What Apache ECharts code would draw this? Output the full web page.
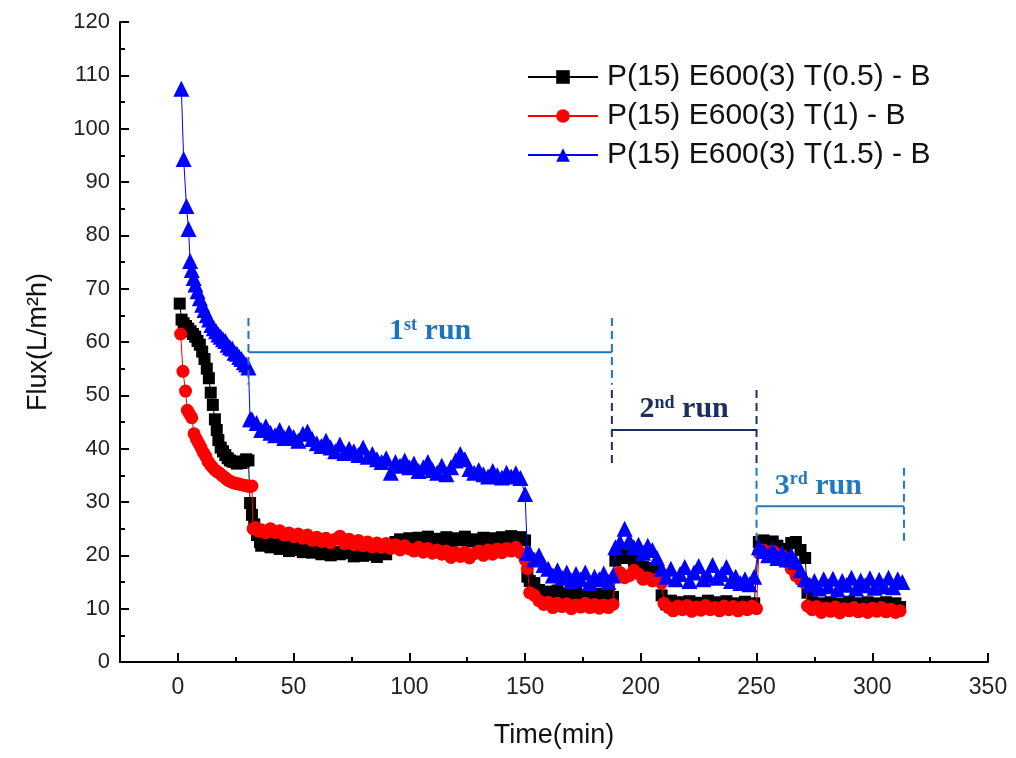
<!DOCTYPE html>
<html>
<head>
<meta charset="utf-8">
<script src="https://cdn.jsdelivr.net/npm/echarts@6/dist/echarts.min.js"></script>
<style>
html,body{margin:0;padding:0;background:#fff;}
#chart{width:1016px;height:758px;}
</style>
</head>
<body>
<div id="chart"></div>
<script>
// ---- data (time in min, flux in L/m2h) ----
const seriesNames = ['P(15) E600(3) T(0.5) - B', 'P(15) E600(3) T(1) - B', 'P(15) E600(3) T(1.5) - B'];
const xTicks = [0, 50, 100, 150, 200, 250, 300, 350];
const yTicks = [0, 10, 20, 30, 40, 50, 60, 70, 80, 90, 100, 110, 120];

const blackPts = [
[0.8,67.2],[1.6,64.2],[2.5,63.5],[3.5,63],[4.5,62.5],[5.5,62],[6.5,61.5],[7.5,61],[8.5,60.2],[9.5,59.5],
[10.5,58.2],[11.5,56.8],[12.5,55],[13.4,53.2],[14.2,50.5],[15.1,48.2],[16,45.5],[16.8,43.5],[17.5,41.6],[18.5,40.2],
[19.5,39.5],[20.5,38.8],[21.5,38.2],[22.5,37.8],[23.5,37.6],[24.5,37.5],[25.5,37.2],[26.5,37.5],[27.5,37.3],[28.5,37.6],
[29.5,38],[30.5,37.8],[31.2,29.8],[32,27.6],[33,25.8],[34.2,23.8],[35.5,22.5],
[36,21.8],[38,22.5],[40,21.5],[42,22.2],[44,21.2],[46,22],[48,20.8],[50,21.5],[52,21],[54,20.6],[56,21.3],[58,20.5],
[60,21],[62,20.2],[64,20.8],[66,20],[68,20.6],[70,20.2],[72,21.5],[74,20.4],[76,19.8],[78,20.5],[80,19.9],[82,20.6],
[84,20.1],[86,19.7],[88,20.8],[90,20.2],[92,21.8],[94,22.5],[96,23],[98,22.2],[100,23.2],[102,22.5],[104,23.3],[106,22.7],
[108,23.5],[110,22.8],[112,23.1],[114,22.5],[116,23.4],[118,22.6],[120,23.2],[122,22.8],[124,23.5],[126,22.6],[128,23],
[130,22.4],[132,23.3],[134,22.7],[136,23.2],[138,22.5],[140,23.4],[142,22.8],[144,23.6],[146,22.6],[148,23.4],[150,22.8],
[151,16],[152,15.2],[154,14.8],[156,13.5],[158,12.8],[160,13.2],[162,12.5],[164,13.4],[166,12.2],[168,12.9],[170,12.4],
[172,13.2],[174,12.6],[176,12.1],[178,13],[180,12.3],[182,12.8],[184,12],[186,12.6],[188,12.2],
[189,19],[191,20.5],[193,19.5],[195,20.2],[197,19],[199,19.6],[201,17.8],[203,17.2],[205,17.6],[207,17],
[209,12.5],[211,10.8],[213,11.5],[215,10.5],[217,11.2],[219,10.6],[221,11.4],[223,10.4],[225,11.1],[227,10.7],[229,11.5],
[231,10.3],[233,11.2],[235,10.8],[237,11.4],[239,10.5],[241,11],[243,10.6],[245,11.3],[247,10.5],[249,11],
[251,22.5],[253,22.8],[255,22.2],[257,22.6],[259,21.8],[261,21.2],[263,20.6],[265,22.3],[267,22.5],[269,21],[271,19.5],
[272,13],[274,11.2],[276,10.4],[278,11],[280,10.5],[282,11.2],[284,10.3],[286,10.9],[288,10.6],[290,11.3],[292,10.4],
[294,11],[296,10.5],[298,11.2],[300,10.4],[302,11],[304,10.6],[306,11.2],[308,10.4],[310,11],[312,10.3]
];

const redPts = [
[1.2,61.5],[2.2,54.5],[3.3,50.8],[4.1,47.2],[5,46.5],[6,45.8],[7,42.8],[8,41.8],[9,41],[10,40.2],[11,39.3],[12,38.6],
[13,37.6],[14,37],[15,36.5],[16,36],[17,35.7],[18,35.4],[19,35],[20,34.7],[21,34.3],[22,34],[23,33.8],[24,33.6],
[25,33.5],[26,33.4],[27,33.3],[28,33.2],[29,33.1],[30,33],[31,32.9],[32,33],[32.5,25],[33.5,25.2],[35,24.5],
[36,24.8],[38,24.2],[40,25],[42,24.3],[44,24.6],[46,23.8],[48,24.2],[50,23.5],[52,24],[54,23.2],[56,23.8],[58,22.8],
[60,23.4],[62,22.6],[64,23.2],[66,22.4],[68,23],[70,23.6],[72,22.2],[74,23],[76,22],[78,22.8],[80,21.8],[82,22.5],
[84,21.6],[86,22.3],[88,21.5],[90,22.2],[92,21.3],[94,22],[96,21],[98,21.8],[100,21.2],[102,20.8],[104,21.5],[106,20.6],
[108,21.3],[110,20.4],[112,21],[114,20.2],[116,20.8],[118,19.6],[120,20.5],[122,19.8],[124,20.6],[126,19.5],[128,20.3],
[130,20.8],[132,20],[134,21],[136,20.2],[138,21.2],[140,20.5],[142,21.3],[144,20.8],[146,21.5],[148,20.5],[150,19.2],
[151,17.5],[152,13],[154,12.5],[156,11.5],[158,10.8],[160,11.2],[162,10.2],[164,11],[166,10.4],[168,10.9],[170,10],
[172,10.7],[174,10.3],[176,11],[178,10.2],[180,10.8],[182,10.1],[184,10.7],[186,10.2],[188,10.8],
[189,16],[191,16.8],[193,15.8],[195,16.2],[197,17.2],[199,16.5],[201,15.5],[203,15.8],[205,15.2],[207,15.6],[209,14.8],
[210,11],[212,10.2],[214,9.6],[216,10.5],[218,9.8],[220,10.6],[222,9.5],[224,10.3],[226,9.7],[228,10.6],[230,9.8],
[232,10.2],[234,9.6],[236,10.5],[238,9.8],[240,10.4],[242,9.6],[244,10.3],[246,9.8],[248,10.5],[250,10],
[251,20.5],[253,21],[255,20.4],[257,20.8],[259,20.2],[261,20],[263,18.8],[265,17.5],[267,16.2],[269,15.4],[271,14.8],
[272,10.5],[274,9.8],[276,10.4],[278,9.3],[280,10.1],[282,9.5],[284,10.3],[286,9.2],[288,10],[290,9.6],[292,10.2],
[294,9.4],[296,9.9],[298,9.3],[300,10.1],[302,9.5],[304,10.2],[306,9.4],[308,9.9],[310,9.3],[312,9.6]
];

const bluePts = [
[1.5,107.5],[2.5,94.3],[3.7,85.5],[4.6,81.2],[5.3,75.2],[6,73.5],[6.8,72],[7.6,70.8],[8.5,69.5],[9.5,68.2],[10.5,67],
[11.5,66],[12.5,65],[13.5,64.2],[14.5,63.2],[15.5,62.6],[16.5,62],[17.5,61.4],[18.5,61],[19.5,60.5],[20.5,60.2],
[21.5,59.5],[22.5,59],[23.5,58.8],[24.5,58],[25.5,57.8],[26.5,57.2],[27.5,56.8],[28.5,56.2],[29.5,55.8],[30.5,55.2],
[31.2,45.5],[32,45.5],[34,44.8],[36,43.5],[38,44.2],[40,43],[42,42.5],[44,43.5],[46,42],[48,43],[50,42.2],[52,41.5],
[54,42.8],[56,43.2],[58,41.8],[60,41],[62,40.5],[64,41.5],[66,40.2],[68,39.5],[70,40.8],[72,39.2],[74,40],[76,39.5],
[78,38.8],[80,40.2],[82,38.5],[84,39],[86,38],[88,37.5],[90,38.2],[92,35.5],[94,37.5],[96,36.8],[98,37.8],[100,36.5],
[102,37.2],[104,35.8],[106,36.5],[108,37.5],[110,36],[112,35.5],[114,36.8],[116,35.2],[118,36.5],[120,37.8],[122,39],
[124,38],[126,36.2],[128,35.5],[130,36],[132,35.2],[134,34.8],[136,35.8],[138,35],[140,34.6],[142,35.5],[144,34.8],
[146,35.4],[148,34.5],[150,31.5],
[151,20.5],[152,20.5],[154,19.2],[156,20],[158,18.2],[160,17.5],[162,16.2],[164,17.2],[166,15.8],[168,16.8],[170,15.2],
[172,16.5],[174,15.5],[176,16.8],[178,14.8],[180,16],[182,15.5],[184,16.6],[186,15],[188,16.2],
[189,21.5],[191,22.5],[193,25],[195,22.8],[197,21.5],[199,22],[201,20.5],[203,21.8],[205,21],[207,19.5],[209,17.5],
[211,16],[213,17.5],[215,15.5],[217,16.5],[219,17.8],[221,15.2],[223,16.8],[225,18],[227,15.5],[229,16.2],[231,18.2],
[233,15.8],[235,16.5],[237,17.8],[239,15.2],[241,16],[243,14.8],[245,15.5],[247,14.6],[249,16],
[251,21.5],[253,20.8],[255,20],[257,21],[259,19.5],[261,20.5],[263,19.2],[265,20],[267,18.8],[269,17.2],[271,15.5],
[273,14.5],[275,15.2],[277,13.8],[279,15.5],[281,14.2],[283,15.6],[285,13.6],[287,15.2],[289,14.5],[291,15.8],
[293,13.8],[295,15.3],[297,14.4],[299,15.7],[301,13.9],[303,15.4],[305,14.2],[307,15.8],[309,14],[311,15.5],[313,15]
];

// run brackets: [start, end, level, top, bottom] in data units
const runLabels = ['1{sup|st} run', '2{sup|nd} run', '3{sup|rd} run'];
const runSpans = [
  [30.5, 187.5, 58.1, 64.5, 52],
  [187.5, 250, 43.5, 51, 37.3],
  [250, 313.7, 29.2, 36.4, 22.5]
];
const runColors = ['#1f72c0', '#1b2f60', '#1f7ac4'];

const chart = echarts.init(document.getElementById('chart'), null, {renderer: 'canvas'});
const axisFont = 'Liberation Sans, Arial, sans-serif';

function renderRun(params, api) {
  const i = params.dataIndex;
  const s = runSpans[i];
  const p0 = api.coord([s[0], s[2]]);
  const p1 = api.coord([s[1], s[2]]);
  const t0 = api.coord([s[0], s[3]]);
  const b0 = api.coord([s[0], s[4]]);
  const t1 = api.coord([s[1], s[3]]);
  const b1 = api.coord([s[1], s[4]]);
  const c = runColors[i];
  const dash = {stroke: c, lineWidth: 2, lineDash: [8, 5]};
  return {
    type: 'group',
    children: [
      {type: 'line', shape: {x1: p0[0], y1: p0[1], x2: p1[0], y2: p1[1]}, style: {stroke: c, lineWidth: 2}},
      {type: 'line', shape: {x1: t0[0], y1: t0[1], x2: b0[0], y2: b0[1]}, style: dash},
      {type: 'line', shape: {x1: t1[0], y1: t1[1], x2: b1[0], y2: b1[1]}, style: dash},
      {type: 'text', x: (p0[0] + p1[0]) / 2 - (i === 2 ? 12 : 0), y: p0[1] - 5,
       style: {text: runLabels[i], align: 'center', verticalAlign: 'bottom',
         fill: c, font: 'bold 30px "Liberation Serif", "Times New Roman", serif',
         rich: {sup: {fontSize: 18, fontWeight: 'bold', fontFamily: 'Liberation Serif', fill: c, verticalAlign: 'top', padding: [0, 0, 13, 0]}}}}
    ]
  };
}

const option = {
  animation: false,
  backgroundColor: '#ffffff',
  grid: {left: 120, right: 28, top: 22, bottom: 96, containLabel: false},
  legend: {
    data: seriesNames,
    orient: 'vertical',
    left: 522, top: 56,
    itemWidth: 70, itemHeight: 17, itemGap: 7,
    textStyle: {fontFamily: axisFont, fontSize: 30, color: '#111', padding: [0, 0, 0, 4], lineHeight: 32}
  },
  xAxis: [{
    type: 'value', min: -25, max: 350, splitNumber: 7,
    name: 'Time(min)', nameLocation: 'middle', nameGap: 60,
    nameTextStyle: {fontFamily: axisFont, fontSize: 27, color: '#111'},
    axisLine: {show: true, onZero: false, lineStyle: {color: '#000', width: 2}},
    axisTick: {show: true, inside: true, length: 9, lineStyle: {color: '#000', width: 2}},
    axisLabel: {fontFamily: axisFont, fontSize: 23, color: '#222', margin: 14,
      showMinLabel: false,
      formatter: v => (xTicks.indexOf(v) >= 0 ? String(v) : '')},
    splitLine: {show: false}
  }, {
    type: 'value', min: -25, max: 350, interval: 25, position: 'bottom',
    axisLine: {show: false, onZero: false},
    axisTick: {show: true, inside: true, length: 5, lineStyle: {color: '#000', width: 2}},
    axisLabel: {show: false},
    splitLine: {show: false}
  }],
  yAxis: {
    type: 'value', min: 0, max: 120, interval: 10,
    name: 'Flux(L/m²h)', nameLocation: 'middle', nameGap: 68,
    nameTextStyle: {fontFamily: axisFont, fontSize: 27, color: '#111'},
    axisLine: {show: true, onZero: false, lineStyle: {color: '#000', width: 2}},
    axisTick: {show: true, inside: true, length: 9, lineStyle: {color: '#000', width: 2}},
    minorTick: {show: true, splitNumber: 2, length: 5, lineStyle: {color: '#000', width: 2}},
    axisLabel: {fontFamily: axisFont, fontSize: 22, color: '#222', margin: 10,
      formatter: v => (yTicks.indexOf(v) >= 0 ? String(v) : '')},
    splitLine: {show: false}
  },
  series: [
    {name: seriesNames[0], type: 'line', data: blackPts, symbol: 'rect', symbolSize: 12,
     itemStyle: {color: '#000000'}, lineStyle: {color: '#000000', width: 1}, z: 2},
    {name: seriesNames[1], type: 'line', data: redPts, symbol: 'circle', symbolSize: 13,
     itemStyle: {color: '#ff0000'}, lineStyle: {color: '#ff0000', width: 1}, z: 3},
    {name: seriesNames[2], type: 'line', data: bluePts, symbol: 'triangle', symbolSize: 16,
     itemStyle: {color: '#0000ff'}, lineStyle: {color: '#0000ff', width: 1}, z: 4},
    {name: 'runs', type: 'custom', renderItem: renderRun, data: runSpans.map(s => [s[0], s[2]]),
     silent: true, z: 5, clip: false}
  ]
};
chart.setOption(option);
</script>
</body>
</html>
